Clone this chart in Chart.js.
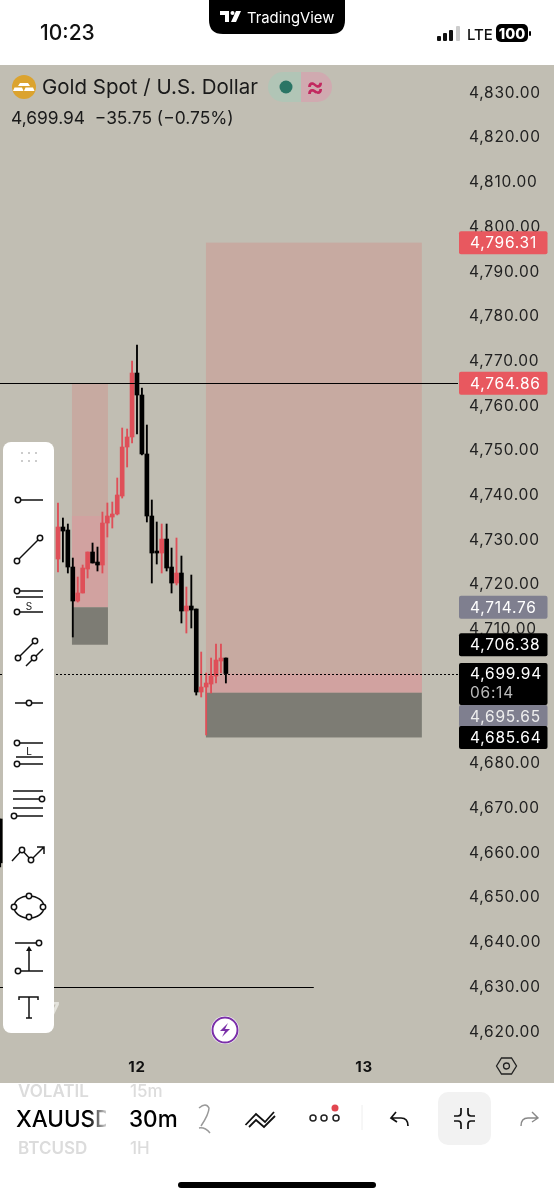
<!DOCTYPE html>
<html>
<head>
<meta charset="utf-8">
<title>XAUUSD 30m</title>
<script src="https://cdn.jsdelivr.net/npm/chart.js@4/dist/chart.umd.min.js"></script>
<style>
  html, body { margin: 0; padding: 0; background: #fff; width: 554px; height: 1199px; overflow: hidden; font-family: Inter, sans-serif; }
  #pane { position: absolute; left: 0; top: 65px; width: 554px; height: 1018px; background: #c1beb3; }
  #pane canvas { display: block; }
  #ui { position: absolute; left: 0; top: 0; pointer-events: none; }
  #ui text { font-family: Inter, sans-serif; }
  .ic { fill: none; stroke: #111; stroke-width: 1.5; }
  .ic circle { fill: #fff; }
</style>
</head>
<body>
<div id="pane"><canvas id="chart" width="554" height="1018"></canvas></div>

<svg id="ui" width="554" height="1199" viewBox="0 0 554 1199">
  <defs>
    <linearGradient id="fade" gradientUnits="userSpaceOnUse" x1="16" x2="106" y1="0" y2="0">
      <stop offset="0.8" stop-color="#000"/><stop offset="1" stop-color="#ccc"/>
    </linearGradient>
    <clipPath id="wheel"><rect x="0" y="1083" width="554" height="80"/></clipPath>
    <clipPath id="sym"><rect x="0" y="1083" width="106" height="80"/></clipPath>
  </defs>

  <!-- status bar -->
  <text x="40" y="40" font-size="21" font-weight="500" fill="#111">10:23</text>
  <path d="M209 0H345V20Q345 34 331 34H223Q209 34 209 20Z" fill="#000"/>
  <path d="M220 11H229V22H225V15H220Z M236 11H241L236 22H231Z" fill="#fff"/>
  <circle cx="232.5" cy="13" r="2" fill="#fff"/>
  <text x="247" y="22.5" font-size="14.8" fill="#fff">TradingView</text>
  <rect x="437" y="36" width="4" height="5" rx="1" fill="#111"/>
  <rect x="443" y="33" width="4" height="8" rx="1" fill="#111"/>
  <rect x="449" y="30" width="4" height="11" rx="1" fill="#111"/>
  <rect x="456" y="26" width="4" height="15" rx="1" fill="#ccc"/>
  <text x="467" y="39.5" font-size="15" font-weight="500" fill="#111">LTE</text>
  <rect x="496" y="24" width="32" height="18" rx="5" fill="#000"/>
  <rect x="529" y="31" width="2" height="5" rx="1" fill="#000"/>
  <text x="512" y="38.5" font-size="14.5" font-weight="800" fill="#fff" text-anchor="middle">100</text>

  <!-- symbol header -->
  <circle cx="24" cy="87" r="12" fill="#dba32f"/>
  <path d="M20 84H28L30 87H18Z M14.5 88.5H22L23.5 92H13Z M25.5 88.5H33L34.5 92H24Z" fill="#fff" transform="translate(0 -1)"/>
  <text x="42" y="94" font-size="20.5" fill="#1a1a1a">Gold Spot / U.S. Dollar</text>
  <path d="M283 72H301V102H283A15 15 0 0 1 283 72Z" fill="#b1c5b6"/>
  <path d="M301 72H317A15 15 0 0 1 317 102H301Z" fill="#d0aab0"/>
  <circle cx="286" cy="87" r="6.5" fill="#2a7565"/>
  <text x="315" y="96" font-size="27" font-weight="600" fill="#c2285f" text-anchor="middle">≈</text>
  <text x="11" y="124" font-size="17.4" fill="#1a1a1a" xml:space="preserve">4,699.94  −35.75 (−0.75%)</text>

  <!-- watermark remainder behind the toolbar -->
  <text x="48" y="1017" font-size="20" font-weight="700" fill="#e4e3dc">7</text>

  <!-- drawing toolbar -->
  <rect x="3" y="442" width="51" height="591" rx="8" fill="#fff"/>
  <g fill="#bbb">
    <circle cx="22" cy="453" r="1"/><circle cx="29" cy="453" r="1"/><circle cx="36" cy="453" r="1"/>
    <circle cx="22" cy="461" r="1"/><circle cx="29" cy="461" r="1"/><circle cx="36" cy="461" r="1"/>
  </g>
  <g class="ic">
    <path d="M18 500H43"/><circle cx="18" cy="500" r="2.7"/>
    <path d="M17 561L40 538"/><circle cx="17" cy="561" r="2.7"/><circle cx="40" cy="538" r="2.7"/>
    <path d="M17 591H43M16 597H43M17 612H43"/><circle cx="17" cy="591" r="2.7"/><circle cx="17" cy="612" r="2.7"/>
    <path d="M18 658L35 641M26 666L43 649"/><circle cx="18" cy="658" r="2.7"/><circle cx="35" cy="641" r="2.7"/><circle cx="34" cy="658" r="2.7"/>
    <path d="M15 703H43"/><circle cx="29" cy="703" r="2.7"/>
    <path d="M17 743H43M16 757H43M17 764H43"/><circle cx="17" cy="743" r="2.7"/><circle cx="17" cy="764" r="2.7"/>
    <path d="M13 791H43M13 799H42M13 808H43M14 816H43"/><circle cx="42" cy="799" r="2.7"/><circle cx="14" cy="816" r="2.7"/>
    <path d="M12 861L22 850L31 860L44 847M37 847H44V854"/><circle cx="22" cy="850" r="2.7"/><circle cx="31" cy="860" r="2.7"/>
    <ellipse cx="29" cy="907" rx="15" ry="11"/><circle cx="29" cy="896" r="2.7"/><circle cx="14" cy="907" r="2.7"/><circle cx="43" cy="907" r="2.7"/><circle cx="29" cy="917" r="2.7"/>
    <path d="M15 943H37M18 971H43M29 971V949"/><circle cx="39" cy="943" r="2.7"/><circle cx="18" cy="971" r="2.7"/>
    <path d="M19 1000V997H38V1000M29 997V1018M26 1018H32"/>
  </g>
  <path d="M29 946L26 951H32Z" fill="#111"/>
  <text x="29" y="610" font-size="10" fill="#111" text-anchor="middle">S</text>
  <text x="29" y="755" font-size="10" fill="#111" text-anchor="middle">L</text>

  <!-- replay badge and scale settings -->
  <circle cx="225" cy="1030" r="14" fill="#fff"/>
  <circle cx="225" cy="1030" r="12.5" fill="none" stroke="#7a2fa8" stroke-width="2"/>
  <path d="M228 1023L220 1031H225L222 1037L230 1029H225Z" fill="#7a2fa8"/>
  <path d="M496.5 1066L501.5 1058H511.5L516.5 1066L511.5 1074H501.5Z" fill="none" stroke="#222" stroke-width="1.3"/>
  <circle cx="506.5" cy="1066" r="3" fill="none" stroke="#222" stroke-width="1.3"/>

  <!-- bottom bar -->
  <g clip-path="url(#sym)" font-weight="500">
    <text x="18" y="1097" font-size="17" fill="#dcdcdc" font-weight="600">VOLATIL</text>
    <text x="16" y="1127" font-size="22.5" fill="url(#fade)">XAUUSD</text>
    <text x="18" y="1154" font-size="17" fill="#dcdcdc" font-weight="600">BTCUSD</text>
  </g>
  <g clip-path="url(#wheel)" font-weight="500">
    <text x="130" y="1097" font-size="17" fill="#dcdcdc">15m</text>
    <text x="129" y="1127" font-size="22.5" fill="#000">30m</text>
    <text x="130" y="1154" font-size="17" fill="#dcdcdc">1H</text>
  </g>
  <path d="M199 1108Q206 1102 209 1108Q209 1114 201 1126M199 1128Q205 1127 210 1133" fill="none" stroke="#999" stroke-width="1.5"/>
  <path d="M245.5 1125L256 1114L265 1122L274 1112M249 1127L256 1120L264 1127L275 1116" fill="none" stroke="#111" stroke-width="1.8"/>
  <g fill="none" stroke="#222" stroke-width="1.5">
    <circle cx="313" cy="1118" r="3"/><circle cx="324" cy="1118" r="3"/><circle cx="336" cy="1118" r="3"/>
  </g>
  <circle cx="335" cy="1108" r="3.5" fill="#e24650"/>
  <path d="M362 1105V1130" stroke="#eee"/>
  <path d="M396 1112L391 1118L397 1122M391 1118H401Q408 1118 408 1126" fill="none" stroke="#111" stroke-width="1.7"/>
  <rect x="438" y="1092" width="53" height="53" rx="10" fill="#f2f2f2"/>
  <path d="M461 1108V1113Q461 1116 458 1116H454M468 1108V1113Q468 1116 471 1116H475M461 1129V1124Q461 1121 458 1121H454M468 1129V1124Q468 1121 471 1121H475" fill="none" stroke="#111" stroke-width="1.7"/>
  <path d="M532 1112L538 1118L532 1122M538 1118H528Q521 1118 521 1126" fill="none" stroke="#888" stroke-width="1.4"/>
  <rect x="178" y="1182" width="198" height="6" rx="3" fill="#000"/>
</svg>

<script>
'use strict';

// candles: index 16 sits on the "12" day boundary, one bar is 30 minutes
const candleIdx = [-11.7, 0, 1, 2, 3, 4, 5, 6, 7, 8, 9, 10, 11, 12, 13, 14, 15, 16, 17, 18, 19, 20, 21, 22, 23, 24, 25, 26, 27, 28, 29, 30, 31, 32, 33, 34];
const opens  = [4667.4, 4725.55, 4732.71, 4732.04, 4723.76, 4716.16, 4717.95, 4723.31, 4727.12, 4724.88, 4724.21, 4733.60, 4734.94, 4735.62, 4739.64, 4750.60, 4752.84, 4767.15, 4762.23, 4749.04, 4735.17, 4727.34, 4726.89, 4730.02, 4723.76, 4720.18, 4722.42, 4713.92, 4715.04, 4714.37, 4695.80, 4696.92, 4697.59, 4699.38, 4702.74, 4703.41];
const highs  = [4667.4, 4738.08, 4734.72, 4733.38, 4725.77, 4721.52, 4724.21, 4727.12, 4729.13, 4728.23, 4736.06, 4738.08, 4738.30, 4743.67, 4754.85, 4754.63, 4769.84, 4773.41, 4763.80, 4755.52, 4738.75, 4733.83, 4733.38, 4733.38, 4728.01, 4730.25, 4726.22, 4719.29, 4721.97, 4714.37, 4704.75, 4700.05, 4703.41, 4706.54, 4706.54, 4703.41];
const lows   = [4656.7, 4722.64, 4724.88, 4722.42, 4708.11, 4715.93, 4717.95, 4721.30, 4724.66, 4722.87, 4722.42, 4730.47, 4732.48, 4735.40, 4739.19, 4746.13, 4751.50, 4753.51, 4748.81, 4733.83, 4720.18, 4724.43, 4722.42, 4722.87, 4717.95, 4719.74, 4711.24, 4709.00, 4710.12, 4695.13, 4694.69, 4686.19, 4695.58, 4697.82, 4700.05, 4697.82];
const closes = [4657.6, 4732.71, 4731.81, 4723.76, 4716.16, 4717.95, 4723.54, 4727.12, 4724.66, 4724.21, 4733.60, 4735.17, 4735.62, 4739.87, 4750.60, 4752.84, 4767.15, 4762.23, 4749.04, 4735.17, 4726.89, 4726.89, 4730.02, 4723.54, 4720.18, 4722.42, 4713.92, 4715.04, 4714.14, 4695.80, 4696.92, 4697.82, 4699.38, 4702.96, 4703.41, 4699.94];

const priceTicks = [4620, 4630, 4640, 4650, 4660, 4670, 4680, 4690, 4700, 4710, 4720, 4730, 4740, 4750, 4760, 4770, 4780, 4790, 4800, 4810, 4820, 4830];
const dayTicks = [16, 62];
const dayLabels = ['12', '13'];

// price-range drawings: [from bar, to bar, top, bottom]
const stopZones = [[2.83, 10.12, 4764.86, 4714.76], [29.96, 73.68, 4796.31, 4695.65]];
const liveZones = [[2.83, 10.12, 4735.17, 4714.76], [29.96, 73.68, 4699.94, 4695.65]];
const targetZones = [[2.83, 10.12, 4714.76, 4706.38], [29.96, 73.68, 4695.65, 4685.64]];

const lastPrice = 4699.94;
const hLevel = 4764.86;
const lowLevel = [4629.8, 51.8]; // price, last bar it reaches

const tagPrices = [4796.31, 4764.86, 4714.76, 4706.38, 4699.94, 4695.65, 4685.64];
const tagColours = ['#e8585f', '#e8585f', '#7f7f8f', '#000', '#000', '#7f7f8f', '#000'];

const RED = '#df4f58';
const BLACK = '#000';

const fmt = v => v.toLocaleString('en-US', { minimumFractionDigits: 2, maximumFractionDigits: 2 });

const drawings = {
  id: 'drawings',
  beforeDraw(chart) {
    // axis numbers are tracked out a little in the app
    chart.ctx.letterSpacing = '0.75px';
  },
  beforeDatasetsDraw(chart) {
    const { ctx, scales: { x, y } } = chart;
    const fill = (list, col) => {
      ctx.fillStyle = col;
      list.forEach(z => {
        const l = x.getPixelForValue(z[0]), t = y.getPixelForValue(z[2]);
        ctx.fillRect(l, t, x.getPixelForValue(z[1]) - l, y.getPixelForValue(z[3]) - t);
      });
    };
    fill(stopZones, '#c7aaa1');
    fill(liveZones, '#d1a2a0');
    fill(targetZones, '#7d7c74');
  },
  afterDatasetsDraw(chart) {
    const { ctx, chartArea: a, scales: { x, y } } = chart;
    ctx.save();
    ctx.strokeStyle = '#000';
    ctx.lineWidth = 1;
    const line = (py, x1, x2) => {
      py = Math.round(py) + 0.5;
      ctx.beginPath(); ctx.moveTo(x1, py); ctx.lineTo(x2, py); ctx.stroke();
    };
    line(y.getPixelForValue(hLevel), a.left, a.right);
    line(y.getPixelForValue(lowLevel[0]), a.left, x.getPixelForValue(lowLevel[1]));
    ctx.setLineDash([2, 2]);
    line(y.getPixelForValue(lastPrice), a.left, a.right);
    ctx.restore();
  },
  afterDraw(chart) {
    // price tags sit on top of the axis labels
    const { ctx, scales: { y } } = chart;
    ctx.save();
    ctx.textBaseline = 'middle';
    ctx.font = '15.5px Inter';
    tagPrices.forEach((p, i) => {
      let mid = y.getPixelForValue(p);
      let top = mid - 11.5, h = 23;
      if (p === lastPrice) { top = mid - 10.5; h = 42; }
      if (i === 5) { top = 640; mid = top + 11; h = 22; }
      ctx.fillStyle = tagColours[i];
      ctx.beginPath();
      ctx.roundRect(459, top, 88.5, h, 2);
      ctx.fill();
      ctx.fillStyle = i === 5 ? '#eee' : '#fff';
      ctx.fillText(fmt(p), 470, mid + 1);
      if (p === lastPrice) {
        ctx.fillStyle = '#bbb';
        ctx.fillText('06:14', 470, mid + 20);
      }
    });
    ctx.restore();
  }
};

const isUp = candleIdx.map((_, i) => closes[i] >= opens[i]);

new Chart(document.getElementById('chart'), {
  type: 'bar',
  data: {
    datasets: [
      {
        label: 'wick',
        data: candleIdx.map((v, i) => ({ x: v, y: [lows[i], highs[i]] })),
        backgroundColor: isUp.map(u => u ? RED : BLACK),
        barThickness: 1.2,
        grouped: false,
        order: 2
      },
      {
        label: 'body',
        data: candleIdx.map((v, i) => ({ x: v, y: [opens[i], closes[i]] })),
        backgroundColor: isUp.map(u => u ? RED : BLACK),
        barThickness: 4,
        minBarLength: 1,
        grouped: false,
        order: 1
      }
    ]
  },
  options: {
    responsive: false,
    animation: false,
    devicePixelRatio: 1,
    layout: { padding: 0 },
    plugins: { legend: { display: false }, tooltip: { enabled: false } },
    scales: {
      x: {
        type: 'linear',
        offset: false,
        min: -11.74,
        max: 81,
        grid: { display: false },
        border: { display: false },
        afterFit(s) { s.height = 33; s.paddingLeft = 0; s.paddingRight = 0; },
        afterBuildTicks(s) { s.ticks = dayTicks.map(v => ({ value: v })); },
        ticks: {
          color: '#111',
          maxRotation: 0,
          padding: 0,
          autoSkip: false,
          font: { family: 'Inter', size: 15, weight: '700' },
          callback: v => dayLabels[dayTicks.indexOf(v)]
        }
      },
      y: {
        type: 'linear',
        position: 'right',
        min: 4615.74,
        max: 4836.04,
        grid: { display: false },
        border: { display: false },
        afterFit(s) { s.width = 96; s.paddingTop = 0; s.paddingBottom = 0; },
        afterBuildTicks(s) { s.ticks = priceTicks.map(v => ({ value: v })); },
        ticks: {
          color: '#222',
          padding: 3,
          labelOffset: 1,
          autoSkip: false,
          font: { family: 'Inter', size: 15.5 },
          callback: v => fmt(v)
        }
      }
    }
  },
  plugins: [drawings]
});
</script>
</body>
</html>
